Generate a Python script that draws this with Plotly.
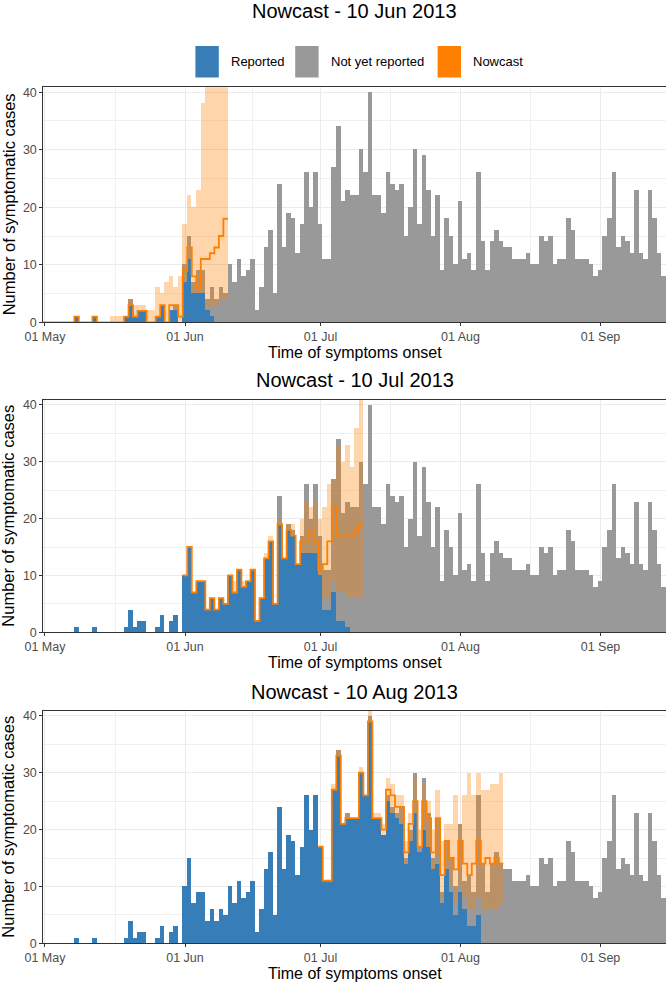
import pandas as pd
import plotly.graph_objects as go

W, H = 666, 985
FONT = "Liberation Sans, Arial, sans-serif"

# ---------------- data ----------------
dates = pd.date_range("2013-05-01", "2013-09-15", freq="D")
total_may = [0,0,0,0,0,0,0,1,0,0,0,1,0,0,0,0,0,0,1,4,1,2,2,0,0,1,3,0,2,3,0]
total_jun = [10,15,7,9,9,4,6,4,6,5,10,7,11,8,9,11,2,6,13,16,5,24,13,19,18,12,17,26,20,26]
total_jul = [17,11,11,27,34,21,23,22,22,30,26,40,22,22,19,26,24,23,24,15,20,30,17,29,23,15,22,9,18,15,10]
total_aug = [21,11,12,9,26,14,9,14,16,14,13,13,11,11,11,12,10,10,15,14,15,10,11,11,18,16,11,11,11,10,8]
total_sep = [9,15,18,26,13,15,14,12,23,12,11,23,18,12,8]
total = total_may + total_jun + total_jul + total_aug + total_sep

titles = ["Nowcast - 10 Jun 2013", "Nowcast - 10 Jul 2013", "Nowcast - 10 Aug 2013"]
month_ticks = ["2013-05-01", "2013-06-01", "2013-07-01", "2013-08-01", "2013-09-01"]
month_labels = ["01 May", "01 Jun", "01 Jul", "01 Aug", "01 Sep"]
legend_labels = ["Reported", "Not yet reported", "Nowcast"]

# Nowcast 10 Jun 2013 (window 01 May - 10 Jun)
win1 = pd.date_range("2013-05-01", "2013-06-10", freq="D")
rep1 = [0,0,0,0,0,0,0,1,0,0,0,1,0,0,0,0,0,0,1,3,1,2,2,0,0,1,3,0,2,2,0,
        7,11,5,5,5,2,1,0,0,0]
med1 = [0,0,0,0,0,0,0,1,0,0,0,1,0,0,0,0,0,0,1,3,1,2,2,0,0,1,3,0,3,3,1,
        9,13,8,6,11,11,12,13,15,18]
lo1  = [0,0,0,0,0,0,0,1,0,0,0,1,0,0,0,0,0,0,1,3,1,2,2,0,0,1,3,0,2,2,0,
        7,11,5,5,5,2,3,3,4,4]
hi1  = [0,0,0,0,0,0,0,1,0,0,0,1,0,0,0,1,1,1,1,4,3,3,3,2,2,6,5,7,8,6,8,
        17,22,20,23,38,60,60,60,60,60]

# Nowcast 10 Jul 2013 (window 01 Jun - 10 Jul)
win2 = pd.date_range("2013-06-01", "2013-07-10", freq="D")
rep2 = [10,15,7,9,9,4,6,4,6,5, 10,7,11,8,9,11,2,6,13,16,
        5,19,13,18,17,12,14,14,14,14, 10,4,4,7,2,2,1,0,0,0]
med2 = [10,15,7,9,9,4,6,4,6,5, 10,7,11,8,9,11,2,6,13,16,
        5,19,13,18,17,12,16,16,18,16, 11,12,16,22,17,17,17,17,18,19]
lo2  = [10,15,7,9,9,4,6,4,6,5, 10,7,11,8,9,11,2,6,13,16,
        5,19,13,18,17,12,14,14,14,14, 10,6,6,9,7,7,6,6,6,6]
hi2  = [10,15,7,9,9,4,6,4,6,5, 10,9,11,9,9,11,2,6,14,17,
        5,20,13,19,19,12,20,23,22,23, 20,22,26,27,33,30,33,29,36,45]

# Nowcast 10 Aug 2013 (window 01 Jul - 10 Aug)
win3 = pd.date_range("2013-07-01", "2013-08-10", freq="D")
rep3 = [17,11,11,27,33, 21,22,22,22,30,26,39, 22,22,19,25,23,22,21,
        14,18,23,16,20,17,13, 14,7,13,9,5, 9,6,3,3,5,0,0,0,0,0]
med3 = [17,11,11,27,33, 21,22,22,22,30,26,39, 22,22,20,27,26,24,24,
        16,21,25,17,25,22,16, 22,12,18,15,13, 18,14,12,14,18,14,15,14,15,14]
lo3  = [17,11,11,27,33, 21,22,22,22,30,26,39, 22,22,19,25,23,22,21,
        14,18,23,16,20,17,13, 15,8,13,10,7, 10,8,6,6,8,6,6,6,6,7]
hi3  = [17,11,11,28,34, 21,23,22,22,31,26,41, 23,23,21,29,28,26,26,
        18,23,29,20,28,25,20, 27,18,21,21,26, 21,26,30,26,30,27,27,28,28,30]

panels = [
    (titles[0], win1, rep1, med1, lo1, hi1),
    (titles[1], win2, rep2, med2, lo2, hi2),
    (titles[2], win3, rep3, med3, lo3, hi3),
]

# ---------------- style ----------------
BLUE = "#377EB8"
GREY = "#999999"
ORANGE = "#FF7F00"
BAND = "rgba(255,127,0,0.33)"
DAY = 86400000
HALF = pd.Timedelta(hours=12)

panel_px = [(87.3, 322.3), (400.0, 632.3), (711.0, 943.3)]
x_left_px = 43.3

fig = go.Figure()

def full_reported(win, rep):
    out = []
    start, end = win[0], win[-1]
    for d, t in zip(dates, total):
        if d < start:
            out.append(t)
        elif d > end:
            out.append(0)
        else:
            out.append(rep[(d - start).days])
    return out

minor_x = ["2013-05-16 12:00", "2013-06-16", "2013-07-16 12:00", "2013-08-16 12:00"]

for i, (title, win, rep, med, lo, hi) in enumerate(panels):
    k = "" if i == 0 else str(i + 1)
    xa, ya = "x" + k, "y" + k
    blue_full = full_reported(win, rep)
    fig.add_trace(go.Bar(x=dates, y=total, width=DAY, marker=dict(color=GREY, line_width=0),
                         xaxis=xa, yaxis=ya, showlegend=False, hoverinfo="skip"))
    fig.add_trace(go.Bar(x=dates, y=blue_full, width=DAY, marker=dict(color=BLUE, line_width=0),
                         xaxis=xa, yaxis=ya, showlegend=False, hoverinfo="skip"))
    fig.add_trace(go.Bar(x=win, y=[h - l for h, l in zip(hi, lo)], base=lo, width=DAY,
                         marker=dict(color=BAND, line_width=0),
                         xaxis=xa, yaxis=ya, showlegend=False, hoverinfo="skip"))
    sx = [d - HALF for d in win] + [win[-1] + HALF]
    sy = list(med) + [med[-1]]
    fig.add_trace(go.Scatter(x=sx, y=sy, mode="lines", line=dict(color=ORANGE, width=1.8, shape="hv"),
                             xaxis=xa, yaxis=ya, showlegend=False, hoverinfo="skip"))

    top, bot = panel_px[i]
    axis_common = dict(showline=True, linecolor="#333333", linewidth=1, mirror=True,
                       ticks="outside", ticklen=3, tickcolor="#333333",
                       tickfont=dict(family=FONT, size=12.5, color="#4D4D4D"),
                       gridcolor="#EBEBEB", gridwidth=1, zeroline=False, automargin=False)
    fig.layout["xaxis" + k] = dict(
        type="date", domain=[x_left_px / W, 1], anchor=ya,
        range=["2013-04-30 15:00", "2013-09-15 12:00"],
        tickmode="array", tickvals=month_ticks, ticktext=month_labels,
        minor=dict(tickmode="array", tickvals=minor_x, showgrid=True, gridcolor="#F0F0F0", gridwidth=0.7, ticks=""),
        **axis_common)
    fig.layout["yaxis" + k] = dict(
        domain=[1 - bot / H, 1 - top / H], anchor=xa, range=[0, 40.85],
        tickmode="array", tickvals=[0, 10, 20, 30, 40],
        minor=dict(tickmode="array", tickvals=[5, 15, 25, 35], showgrid=True, gridcolor="#F0F0F0", gridwidth=0.7, ticks=""),
        **axis_common)

annotations = []
title_y = [11, 380.5, 691.5]
for i in range(3):
    top, bot = panel_px[i]
    annotations.append(dict(text=titles[i], x=354.6 / W, y=1 - title_y[i] / H, xref="paper", yref="paper",
                            xanchor="center", yanchor="middle", showarrow=False,
                            font=dict(family=FONT, size=20, color="black")))
    annotations.append(dict(text="Time of symptoms onset", x=354.6 / W, y=1 - (bot + 30) / H,
                            xref="paper", yref="paper", xanchor="center", yanchor="middle", showarrow=False,
                            font=dict(family=FONT, size=16, color="black")))
    annotations.append(dict(text="Number of symptomatic cases", x=8.5 / W, y=1 - (top + bot) / 2 / H,
                            xref="paper", yref="paper", xanchor="center", yanchor="middle", textangle=-90,
                            showarrow=False, font=dict(family=FONT, size=16.5, color="black")))

# legend (manual)
legend_items = [(legend_labels[0], BLUE, 195.4, 229.4), (legend_labels[1], GREY, 295.2, 329.2),
                (legend_labels[2], ORANGE, 437.6, 470.7)]
shapes = []
for label, col, bx, tx in legend_items:
    shapes.append(dict(type="rect", xref="paper", yref="paper", x0=bx / W, x1=(bx + 23.4) / W,
                       y0=1 - 77.5 / H, y1=1 - 46 / H, fillcolor=col, line=dict(width=0)))
    annotations.append(dict(text=label, x=tx / W, y=1 - 62 / H, xref="paper", yref="paper",
                            xanchor="left", yanchor="middle", showarrow=False,
                            font=dict(family=FONT, size=13, color="black")))

fig.update_layout(width=W, height=H, margin=dict(l=0, r=0, t=0, b=0),
                  paper_bgcolor="white", plot_bgcolor="white",
                  barmode="overlay", bargap=0, showlegend=False,
                  annotations=annotations, shapes=shapes,
                  font=dict(family=FONT))

# remove the browser's default 8px body margin so the figure starts at the window corner
fig.write_html("out.html", config={"displayModeBar": False},
               post_script="document.body.style.margin='0px';")
